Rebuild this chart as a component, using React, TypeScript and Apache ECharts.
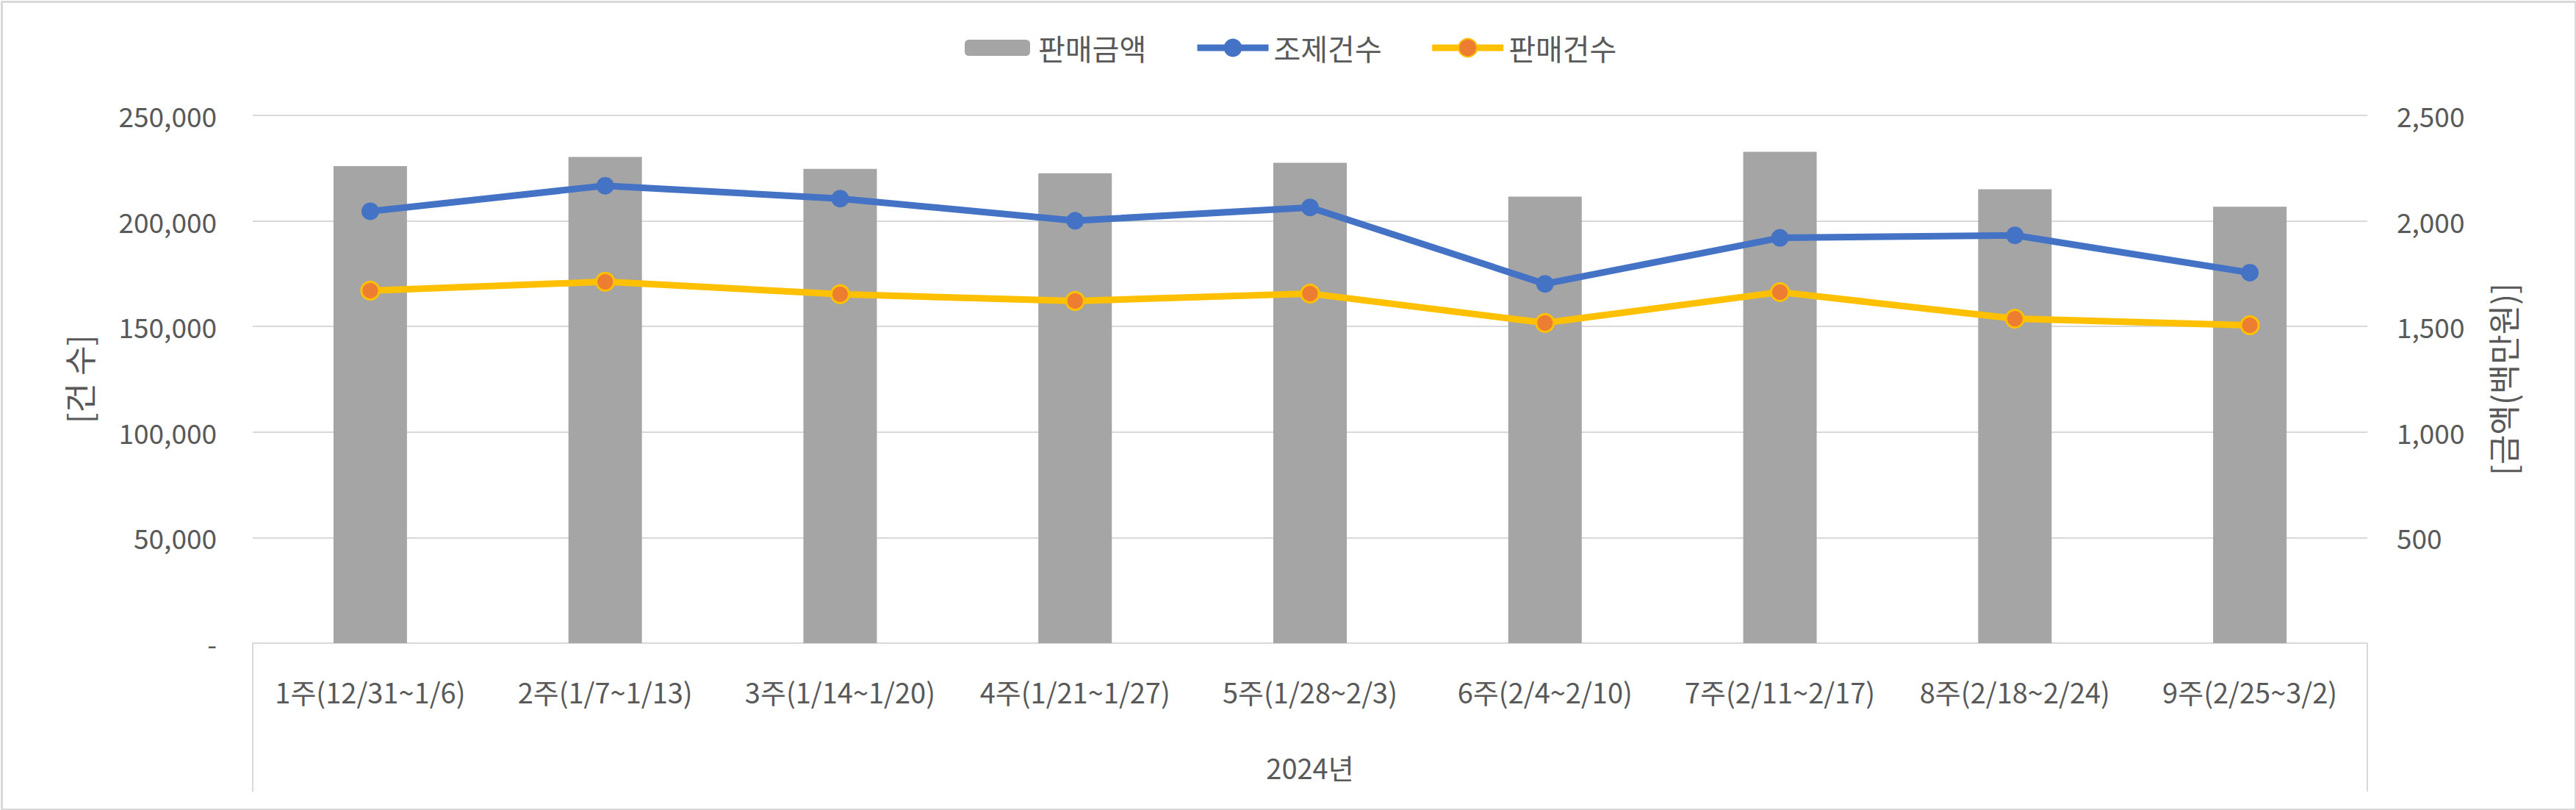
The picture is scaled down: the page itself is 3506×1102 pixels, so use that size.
import React, { useEffect, useRef } from "react";
import * as echarts from "echarts";

const categories = [
  "1주(12/31~1/6)",
  "2주(1/7~1/13)",
  "3주(1/14~1/20)",
  "4주(1/21~1/27)",
  "5주(1/28~2/3)",
  "6주(2/4~2/10)",
  "7주(2/11~2/17)",
  "8주(2/18~2/24)",
  "9주(2/25~3/2)",
];
const groupLabel = ["2024년"];
const salesAmount = [2260, 2303, 2247, 2226, 2275, 2115, 2328, 2150, 2067];
const dispenseCount = [204600, 216700, 210600, 200100, 206400, 170200, 192000, 193200, 175500];
const salesCount = [167000, 171200, 165300, 162100, 165600, 151700, 166300, 153700, 150600];

const FONT = "'Noto Sans CJK KR', 'Noto Sans', sans-serif";
const TXT = "#595959";
const GRID = "#d9d9d9";

const fmt = (v: number) => v.toLocaleString("en-US");

export default function App() {
  const ref = useRef<HTMLDivElement>(null);
  useEffect(() => {
    document.body.style.margin = "0";
    const chart = echarts.init(ref.current!, null, { renderer: "svg" });
    chart.setOption({
      animation: false,
      backgroundColor: "#ffffff",
      textStyle: { fontFamily: FONT },
      legend: [
        {
          data: ["판매금액"],
          left: 1313,
          top: 45,
          padding: 0,
          itemWidth: 89,
          itemHeight: 22,
          textStyle: { color: TXT, fontSize: 40, fontFamily: FONT, padding: [0, 0, 0, 6] },
        },
        {
          data: ["조제건수", "판매건수"],
          left: 1625,
          top: 45,
          padding: 0,
          itemGap: 64,
          itemWidth: 97,
          itemHeight: 31,
          lineStyle: { width: 9 },
          textStyle: { color: TXT, fontSize: 40, fontFamily: FONT, padding: [0, 0, 0, 2] },
        },
      ],
      grid: { left: 344, right: 284, top: 157, bottom: 227, containLabel: false },
      xAxis: [
        {
          type: "category",
          data: categories,
          position: "bottom",
          axisLine: { show: true, lineStyle: { color: GRID, width: 2 } },
          axisTick: { show: false },
          axisLabel: {
            interval: 0,
            color: TXT,
            fontSize: 38,
            fontFamily: FONT,
            margin: 43,
            lineHeight: 44,
          },
        },
        {
          type: "category",
          data: groupLabel,
          position: "bottom",
          boundaryGap: true,
          axisLine: { show: false },
          axisTick: { show: true, length: 202, lineStyle: { color: GRID, width: 2 } },
          axisLabel: {
            color: TXT,
            fontSize: 38,
            fontFamily: FONT,
            margin: 146,
            lineHeight: 44,
          },
        },
      ],
      yAxis: [
        {
          type: "value",
          min: 0,
          max: 250000,
          interval: 50000,
          position: "left",
          name: "[건 수]",
          nameLocation: "middle",
          nameRotate: 90,
          nameGap: 215,
          nameTextStyle: { color: TXT, fontSize: 44, fontFamily: FONT },
          axisLine: { show: false },
          axisTick: { show: false },
          splitLine: { show: true, lineStyle: { color: GRID, width: 2 } },
          axisLabel: {
            color: TXT,
            fontSize: 37,
            fontFamily: FONT,
            margin: 49,
            formatter: (v: number) => (v === 0 ? "-" : fmt(v)),
          },
        },
        {
          type: "value",
          min: 0,
          max: 2500,
          interval: 500,
          position: "right",
          name: "[금액(백만원)]",
          nameLocation: "middle",
          nameRotate: 90,
          nameGap: 162,
          nameTextStyle: { color: TXT, fontSize: 44, fontFamily: FONT },
          axisLine: { show: false },
          axisTick: { show: false },
          splitLine: { show: false },
          axisLabel: {
            color: TXT,
            fontSize: 37,
            fontFamily: FONT,
            margin: 40,
            formatter: (v: number) => (v === 0 ? "" : fmt(v)),
          },
        },
      ],
      series: [
        {
          name: "판매금액",
          type: "bar",
          xAxisIndex: 0,
          yAxisIndex: 1,
          data: salesAmount,
          barWidth: 100,
          itemStyle: { color: "#a5a5a5" },
        },
        {
          name: "조제건수",
          type: "line",
          xAxisIndex: 0,
          yAxisIndex: 0,
          data: dispenseCount,
          symbol: "circle",
          symbolSize: 24,
          lineStyle: { color: "#4472c4", width: 9 },
          itemStyle: { color: "#4472c4" },
        },
        {
          name: "판매건수",
          type: "line",
          xAxisIndex: 0,
          yAxisIndex: 0,
          data: salesCount,
          symbol: "circle",
          symbolSize: 24,
          lineStyle: { color: "#ffc000", width: 9 },
          itemStyle: { color: "#ed7d31", borderColor: "#ffc000", borderWidth: 3 },
        },
      ],
      graphic: [
        {
          type: "rect",
          left: 0,
          top: 0,
          shape: { x: 1.5, y: 1.5, width: 3503, height: 1099 },
          style: { fill: "none", stroke: GRID, lineWidth: 3 },
          silent: true,
        },
      ],
    });
    return () => chart.dispose();
  }, []);
  return <div ref={ref} style={{ width: 3506, height: 1102 }} />;
}
